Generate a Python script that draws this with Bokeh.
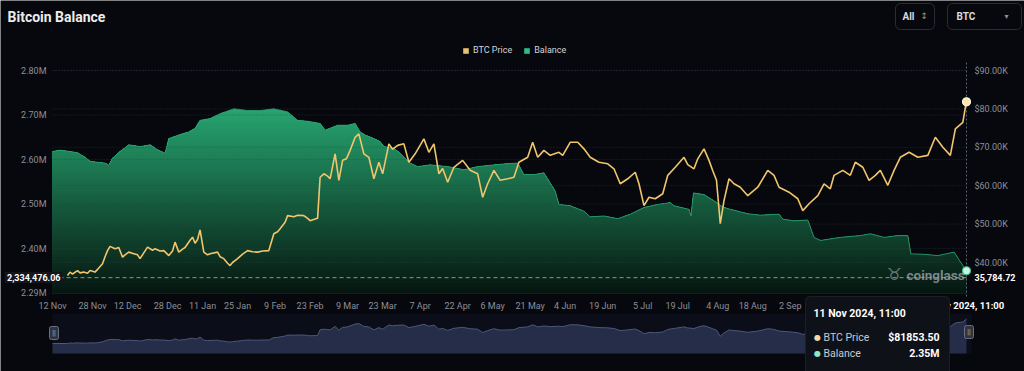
import numpy as np
import pandas as pd
from bokeh.plotting import figure
from bokeh.models import (Range1d, Label, BoxAnnotation, Legend, LegendItem)
from bokeh.core.properties import value
from bokeh.embed import file_html
from bokeh.resources import INLINE

# ---------------- data ----------------
START = "2023-11-12"
LAST_TIME = "2024-11-11 11:00"
# BTC price (thousand USD), x in days since START
price_day = [6, 7, 8, 10, 11, 12.5, 14, 15, 17, 18, 20, 21, 22, 23, 25, 26.5, 28, 29, 30.5, 32.5,
             34, 35, 36.5, 38, 40, 41, 43, 44.5, 46.5, 48, 49, 50.5, 52, 53, 55, 56, 57, 58, 59, 60.5,
             62, 63, 66, 67, 68.5, 70, 71, 72, 74, 76, 78, 80, 82, 84, 86.5, 88.5, 90, 91, 93, 94,
             96.5, 98, 100.5, 102, 103, 105, 106, 107, 108.5, 110, 111, 113, 114.5, 116, 117.5, 119,
             121, 122.5, 124.5, 126.5, 128.5, 130.5, 132, 134.5, 136, 138, 140.5, 142.5, 145, 148.5,
             150.5, 152.5, 154.5, 156, 158, 160.5, 164, 167, 170, 172, 174, 176.5, 179, 182, 184.5,
             186.5, 190, 192, 194, 196.5, 199, 202.5, 204, 207, 210, 212.5, 215, 218.5, 222, 224.5,
             227, 230, 233, 234.5, 236.5, 238.5, 241, 244, 246, 249, 252.5, 254, 256.5, 258, 260.5,
             262.5, 264, 265.5, 267, 268.5, 270.5, 272.5, 275, 278, 282, 286, 288.5, 290.5, 294.5,
             298, 300, 302.5, 306, 308.5, 311, 312.5, 316, 319, 321, 324, 326.5, 329, 331, 334,
             336.5, 339, 342.5, 346, 350, 353, 356, 359, 361, 364, 365, 365.458]
price_k = [36.6, 37.5, 37.0, 37.9, 37.3, 37.5, 37.2, 37.9, 37.5, 38.2, 39.7, 41.5, 43.1, 44.2, 43.6,
           43.9, 41.4, 42.0, 42.7, 42.3, 42.0, 41.0, 42.5, 44.0, 43.2, 43.6, 43.0, 43.1, 41.8, 43.0,
           45.3, 42.7, 43.5, 43.9, 45.8, 46.6, 45.0, 46.0, 48.5, 42.7, 42.0, 42.3, 42.7, 41.5, 41.0,
           39.8, 39.2, 40.0, 41.0, 42.2, 43.1, 42.8, 42.7, 43.0, 43.1, 47.5, 48.0, 48.8, 50.5, 52.2,
           51.9, 52.3, 52.2, 51.5, 50.9, 51.3, 51.5, 62.2, 63.1, 62.5, 61.8, 68.3, 61.4, 66.6, 67.0,
           69.2, 72.6, 73.5, 68.3, 67.4, 61.8, 66.1, 63.1, 70.9, 69.5, 70.5, 70.9, 66.1, 68.3, 72.2,
           68.7, 70.9, 63.1, 64.5, 60.9, 64.8, 66.6, 64.0, 63.1, 57.0, 60.5, 64.0, 61.4, 61.8, 62.2,
           66.1, 67.4, 71.3, 67.4, 69.2, 67.9, 68.7, 67.9, 71.3, 71.3, 69.6, 67.4, 66.1, 65.7, 64.4,
           60.5, 61.8, 63.5, 60.5, 54.8, 57.0, 56.6, 57.9, 62.7, 64.8, 67.4, 65.5, 64.4, 67.0, 69.6,
           66.6, 63.9, 61.4, 50.1, 56.1, 61.8, 60.5, 59.6, 57.4, 59.6, 64.0, 62.7, 59.6, 58.3,
           56.6, 53.5, 55.3, 57.4, 60.5, 59.2, 62.7, 64.0, 62.7, 66.1, 64.8, 61.4, 62.7, 64.0, 60.1,
           64.0, 67.4, 68.7, 67.4, 67.9, 72.6, 70.0, 67.9, 74.8, 76.5, 80.4, 81.8535]
# Bitcoin balance on exchanges (million BTC)
balance_day = [0, 3, 7, 10, 12.5, 15, 19, 21, 22.5, 24, 27, 30.5, 33, 35, 39, 42, 45, 46.5, 51, 54.5,
               57, 59, 63, 67, 72.5, 78, 83, 88.5, 94, 98, 102, 107, 109, 114, 118, 121, 123, 125,
               128.5, 131, 132.5, 136.5, 139, 143, 146, 151, 158, 164.5, 170, 175, 180.5, 186, 188.5,
               192.5, 196.5, 199, 201, 202.5, 207, 212.5, 215, 220.5, 226, 231, 236.5, 242, 247,
               248.5, 254.5, 255.3, 256.3, 260.5, 264.5, 268, 271, 278, 283, 290.5, 292, 296.5, 302,
               304.5, 307, 315, 323, 327, 332.5, 338, 342, 343.2, 348.5, 354, 359, 360.5, 363, 365.458]
balance_m = [2.618, 2.621, 2.618, 2.615, 2.607, 2.596, 2.593, 2.592, 2.587, 2.603, 2.618, 2.633, 2.631,
             2.629, 2.633, 2.622, 2.614, 2.647, 2.656, 2.662, 2.670, 2.688, 2.692, 2.703, 2.714, 2.710,
             2.710, 2.714, 2.707, 2.688, 2.686, 2.681, 2.666, 2.677, 2.677, 2.681, 2.662, 2.655, 2.647,
             2.640, 2.629, 2.625, 2.614, 2.592, 2.584, 2.588, 2.584, 2.577, 2.584, 2.587, 2.590, 2.592,
             2.566, 2.566, 2.570, 2.547, 2.529, 2.499, 2.496, 2.484, 2.471, 2.473, 2.467, 2.477, 2.492,
             2.499, 2.503, 2.496, 2.488, 2.473, 2.525, 2.521, 2.507, 2.493, 2.488, 2.478, 2.475, 2.477,
             2.466, 2.462, 2.464, 2.425, 2.418, 2.425, 2.429, 2.433, 2.425, 2.429, 2.429, 2.388, 2.387,
             2.384, 2.390, 2.392, 2.370, 2.349]
tick_dates = ["2023-11-12", "2023-11-28", "2023-12-12", "2023-12-28", "2024-01-11", "2024-01-25",
              "2024-02-09", "2024-02-23", "2024-03-09", "2024-03-23", "2024-04-07", "2024-04-22",
              "2024-05-06", "2024-05-21", "2024-06-04", "2024-06-19", "2024-07-05", "2024-07-19",
              "2024-08-04", "2024-08-18", "2024-09-02"]
left_ticks_m = [2.2989, 2.40, 2.50, 2.60, 2.70, 2.80]
left_tick_labels = ["2.29M", "2.40M", "2.50M", "2.60M", "2.70M", "2.80M"]
right_ticks_k = [40, 50, 60, 70, 80, 90]
right_tick_labels = ["$40.00K", "$50.00K", "$60.00K", "$70.00K", "$80.00K", "$90.00K"]
series_names = ["BTC Price", "Balance"]
last_price = 81853.50
last_balance = 2.35
last_balance_label = "2.35M"
cross_balance = 2334476.06
cross_balance_label = "2,334,476.06"
cross_price_label = "35,784.72"
cross_time_label = "11 Nov 2024, 11:00"

# ---------------- layout helpers (screen pixels -> data) ----------------
t0 = pd.Timestamp(START)
LAST = (pd.Timestamp(LAST_TIME) - t0).total_seconds() / 86400.0
W, H = 1024, 371
def X(sx): return (sx - 52.0) / 914.0 * LAST
def B(sy): return 2.8e6 - (sy - 70.0) / 445.0 * 1e6
def P(sy): return 90e3 - (sy - 70.0) / 3.84 * 1e3
def N(sy): return 36600.0 + (343.0 - sy) / 0.000539

BG = "#07080d"
TXT = "#8b8f99"
FONT = "Roboto"
GRID = "#3a3e48"
PRICE_C = "#f1c56c"
BAL_C = "#2dbd85"

pday = np.array(price_day, float)
price = np.array(price_k) * 1e3
bday = np.array(balance_day, float)
bal = np.array(balance_m) * 1e6

p = figure(width=W, height=H, output_backend="svg", toolbar_location=None,
           x_range=Range1d(X(0), X(W)), y_range=Range1d(B(H), B(0)),
           x_axis_location=None, y_axis_location=None,
           min_border=0, background_fill_color=BG, border_fill_color=BG,
           outline_line_color=None, title_location=None)
p.extra_y_ranges = {"price": Range1d(P(H), P(0)), "nav": Range1d(N(H), N(0))}
p.grid.visible = False

# ---- gridlines (dotted) for both value scales ----
lt = [v * 1e6 for v in left_ticks_m]
rt = [v * 1e3 for v in right_ticks_k]
p.segment(x0=[X(52)] * len(lt), x1=[X(967)] * len(lt), y0=lt, y1=lt, line_color=GRID,
          line_alpha=0.6, line_dash="1 2", line_width=1, level="guide")
p.segment(x0=[X(52)] * len(rt), x1=[X(967)] * len(rt), y0=rt, y1=rt, y_range_name="price",
          line_color=GRID, line_alpha=0.6, line_dash="1 2", line_width=1, level="guide")

# ---- tick labels ----
tick_days = [(pd.Timestamp(d) - t0).days for d in tick_dates]
tick_text = [f"{pd.Timestamp(d).day} {pd.Timestamp(d).strftime('%b')}" for d in tick_dates]
p.text(x=[X(46)] * len(lt), y=lt, text=left_tick_labels, text_font=value(FONT),
       text_font_size=value("9px"), text_color=TXT, text_align="right", text_baseline="middle")
p.text(x=[X(974)] * len(rt), y=rt, text=right_tick_labels, y_range_name="price",
       text_font=value(FONT), text_font_size=value("9px"), text_color=TXT,
       text_align="left", text_baseline="middle")
p.text(x=tick_days, y=[B(305)] * len(tick_days), text=tick_text, text_font=value(FONT),
       text_font_size=value("9px"), text_color=TXT, text_align="center", text_baseline="middle")

# ---- balance area with vertical gradient (layered bands) ----
xd = np.append(np.arange(0, LAST, 0.25), LAST)
bd = np.interp(xd, bday, bal)
base = B(293)
NB = 56
levels = np.linspace(bd.max(), base, NB + 1)
c0 = np.array([40, 168, 114]); c1 = np.array([6, 22, 16])
def grad(v):
    sy = 70 + (2.8e6 - v) / 1e6 * 445
    t = np.clip((sy - 105) / (293 - 105), 0, 1)
    c = (c0 + (c1 - c0) * t).astype(int)
    return "#%02x%02x%02x" % tuple(c)
for i in range(NB):
    mid = 0.5 * (levels[i] + levels[i + 1])
    p.varea(x=xd, y1=base, y2=np.minimum(bd, levels[i]), fill_color=grad(mid), fill_alpha=1)
p.line(bday, bal, line_color="#2aa774", line_width=1, line_alpha=0.8)

# ---- crosshair ----
p.segment(x0=[X(52)], x1=[LAST], y0=[cross_balance], y1=[cross_balance], line_color="#8f939c",
          line_dash="4 3", line_width=1, level="annotation")
p.segment(x0=[LAST], y0=[B(62)], x1=[LAST], y1=[B(297)], line_color="#5b606b",
          line_dash="2 2", line_width=1)

# ---- price line ----
p.line(pday, price, y_range_name="price", line_color=PRICE_C, line_width=1.6,
       level="annotation")

# ---- end points ----
p.scatter([LAST], [last_price], y_range_name="price", size=8, fill_color="#fde6b0",
          line_color="#fff6dc", line_width=1.2, level="overlay")
p.scatter([LAST], [last_balance * 1e6], size=8, fill_color="#c9f5e2", line_color="#34c08c",
          line_width=1.2, level="overlay")

# ---- legend (square swatches) ----
lp = p.quad(left=[np.nan], right=[np.nan], top=[np.nan], bottom=[np.nan],
            fill_color="#e7c16f", line_color=None)
lb = p.quad(left=[np.nan], right=[np.nan], top=[np.nan], bottom=[np.nan],
            fill_color=BAL_C, line_color=None)
leg = Legend(items=[LegendItem(label=series_names[0], renderers=[lp], index=0),
                    LegendItem(label=series_names[1], renderers=[lb], index=0)],
             orientation="horizontal", location=(462, 316), glyph_width=7, glyph_height=7,
             label_height=9, padding=0, margin=0, spacing=11, label_standoff=4,
             border_line_alpha=0, background_fill_alpha=0, label_text_color="#d3d5db",
             label_text_font=FONT, label_text_font_size="9px")
p.add_layout(leg)

def lab(sx, sy, text, size="9px", color="#ffffff", bold=False, align="left", font=FONT,
        alpha=1.0, level="annotation", **kw):
    l = Label(x=X(sx), y=B(sy), text=text, text_font=font, text_font_size=size,
              text_color=color, text_alpha=alpha, text_font_style="bold" if bold else "normal",
              text_align=align, text_baseline="middle", level=level, **kw)
    p.add_layout(l)
    return l

def box(sx0, sx1, sy0, sy1, fill, line=None, radius=0, level="annotation", **kw):
    b = BoxAnnotation(left=X(sx0), right=X(sx1), top=B(sy0), bottom=B(sy1), fill_color=fill,
                      fill_alpha=1, line_color=line, line_alpha=1 if line else 0,
                      border_radius=radius, level=level, **kw)
    p.add_layout(b)
    return b

# ---- title and controls ----
lab(7, 16, "Bitcoin Balance", size="14px", color="#ececee", bold=True)
box(895, 934, 3, 29, BG, line="#2a2d36", radius=5)
lab(902, 15.5, "All", size="10px", color="#d8dade", bold=True)
lab(920, 15.5, "\u2195", size="9px", color=TXT, font="DejaVu Sans")
box(947, 1021, 3, 29, BG, line="#2a2d36", radius=5)
lab(956, 15.5, "BTC", size="10px", color="#d8dade", bold=True)
lab(1004, 16, "\u25be", size="8px", color=TXT, font="DejaVu Sans")

# ---- watermark ----
lab(886, 273, "\u2649", size="17px", color="#a3a7b0", alpha=0.6, font="DejaVu Sans")
lab(906, 274, "coinglass", size="13.5px", color="#a3a7b0", alpha=0.75, bold=True)

# ---- crosshair value labels ----
lab(62, 277, cross_balance_label, size="9px", bold=True, align="right",
    background_fill_color="#14161c", padding=2)
lab(974, 277, cross_price_label, size="9px", bold=True)
lab(962, 305, cross_time_label, size="9.5px", bold=True, align="center")

# ---- navigator (overview of BTC price) ----
box(52, 971, 313, 353, "#0b0d18", level="underlay")
nx = np.concatenate([[0.0], pday])
ny = np.concatenate([[price[0]], price])
p.varea(x=nx, y1=N(353), y2=ny, y_range_name="nav", fill_color="#252d49", fill_alpha=1)
p.line(nx, ny, y_range_name="nav", line_color="#4d5779", line_width=1)
box(49, 58, 326, 339, "#30343f", line="#6b7080", radius=2)
lab(53.5, 332.5, "||", size="7px", color="#b0b4bd", align="center")
box(964, 973, 325, 338, "#30343f", line="#6b7080", radius=2)
lab(968.5, 331.5, "||", size="7px", color="#b0b4bd", align="center")

# ---- tooltip ----
box(805, 949, 296, 380, "#0f1118", line="#1b1e26", radius=4, level="overlay")
lab(813, 313, cross_time_label, size="10.5px", bold=True, level="overlay")
lab(817, 337, "\u25cf", size="8px", color="#f3d9a4", align="center", font="DejaVu Sans", level="overlay")
lab(823, 337, series_names[0], size="10.5px", color="#c7cad1", level="overlay")
lab(939, 337, f"${last_price:.2f}", size="10.5px", bold=True, align="right", level="overlay")
lab(817, 353, "\u25cf", size="8px", color="#8fe6c9", align="center", font="DejaVu Sans", level="overlay")
lab(823, 353, series_names[1], size="10.5px", color="#c7cad1", level="overlay")
lab(939, 353, last_balance_label, size="10.5px", bold=True, align="right", level="overlay")

open("out.html", "w").write(file_html(p, INLINE))
